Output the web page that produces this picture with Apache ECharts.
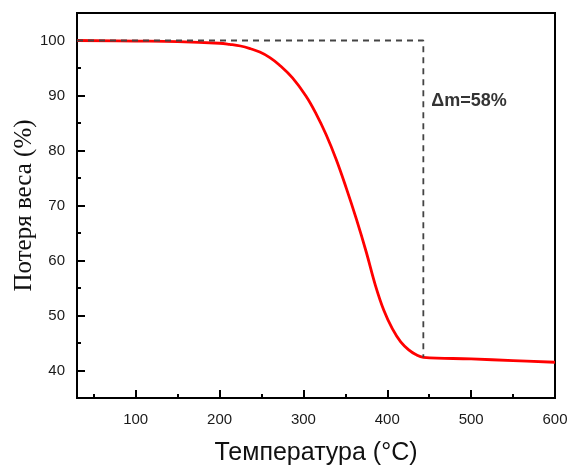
<!DOCTYPE html>
<html>
<head>
<meta charset="utf-8">
<script src="https://cdn.jsdelivr.net/npm/echarts@6/dist/echarts.min.js"></script>
<style>html,body{margin:0;padding:0;background:#fff}#c{width:568px;height:466px}</style>
</head>
<body>
<div id="c"></div>
<script>
// Data
var temperature = [30, 100, 150, 200, 212, 225, 237, 248, 260, 271, 287, 303, 315, 327, 339, 351, 363, 375, 386, 396, 406, 416, 426, 434, 443, 500, 550, 600];
var weightLoss  = [100, 99.9, 99.8, 99.5, 99.3, 99.0, 98.5, 97.9, 96.9, 95.6, 93.2, 89.9, 86.7, 82.9, 78.4, 73.2, 67.6, 61.5, 55.4, 50.9, 47.6, 45.2, 43.7, 42.9, 42.4, 42.1, 41.8, 41.5];
var guideX = [30, 443, 443];
var guideY = [100, 100, 42.4];
var annotation = {x: 443, y: 89.0, text: '\u0394m=58%'};
var xMajor = [100, 200, 300, 400, 500, 600];
var xMinor = [50, 150, 250, 350, 450, 550];
var yMajor = [40, 50, 60, 70, 80, 90, 100];
var yMinor = [45, 55, 65, 75, 85, 95];

function pairs(a, b){ return a.map(function(v,i){ return [v, b[i]]; }); }

var chart = echarts.init(document.getElementById('c'));
var axisLine = {show: true, lineStyle: {color: '#000', width: 2}};
chart.setOption({
  animation: false,
  grid: {left: 77, right: 13, top: 13, bottom: 68, outerBoundsMode: 'none', containLabel: false,
         show: true, borderColor: '#000', borderWidth: 2, backgroundColor: 'transparent'},
  xAxis: [
    {type: 'value', min: 30, max: 600, axisLine: axisLine, splitLine: {show: false},
     axisTick: {inside: true, length: 8, lineStyle: {color: '#000', width: 2}, customValues: xMajor},
     axisLabel: {customValues: xMajor, fontFamily: 'Liberation Sans', fontSize: 15, color: '#1a1a1a', margin: 14},
     name: 'Температура (°C)', nameLocation: 'middle', nameGap: 43, nameMoveOverlap: false,
     nameTextStyle: {fontFamily: 'Liberation Sans', fontSize: 25, color: '#111'}},
    {type: 'value', min: 30, max: 600, position: 'bottom', axisLine: {show: false}, splitLine: {show: false},
     axisTick: {inside: true, length: 4, lineStyle: {color: '#000', width: 2}, customValues: xMinor},
     axisLabel: {show: false}}
  ],
  yAxis: [
    {type: 'value', min: 35, max: 105, axisLine: axisLine, splitLine: {show: false},
     axisTick: {inside: true, length: 8, lineStyle: {color: '#000', width: 2}, customValues: yMajor},
     axisLabel: {customValues: yMajor, fontFamily: 'Liberation Sans', fontSize: 15, color: '#1a1a1a', margin: 12},
     name: 'Потеря веса (%)', nameLocation: 'middle', nameGap: 40, nameMoveOverlap: false,
     nameTextStyle: {fontFamily: 'Liberation Serif', fontSize: 25, color: '#111'}},
    {type: 'value', min: 35, max: 105, position: 'left', axisLine: {show: false}, splitLine: {show: false},
     axisTick: {inside: true, length: 4, lineStyle: {color: '#000', width: 2}, customValues: yMinor},
     axisLabel: {show: false}}
  ],
  series: [
    {type: 'line', data: pairs(temperature, weightLoss), smooth: 0.4, showSymbol: false,
     lineStyle: {color: '#ff0000', width: 2.8}, z: 2},
    {type: 'line', data: pairs(guideX, guideY), showSymbol: false,
     lineStyle: {color: '#444', width: 1.8, type: [6, 5]}, z: 3},
    {type: 'scatter', data: [[annotation.x, annotation.y]], symbolSize: 0,
     label: {show: true, position: 'right', distance: 8, formatter: annotation.text,
       fontFamily: 'Liberation Sans', fontWeight: 'bold', fontSize: 18, color: '#000'}, z: 4}
  ]
});
</script>
</body>
</html>
